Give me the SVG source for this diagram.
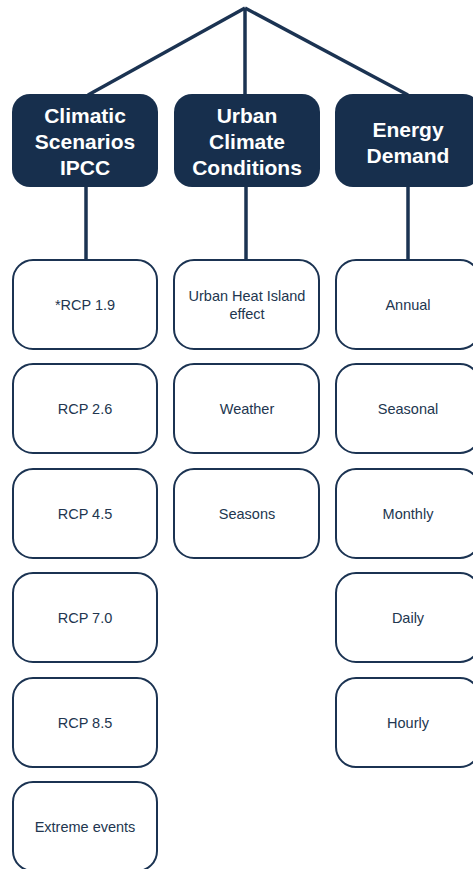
<svg xmlns="http://www.w3.org/2000/svg" width="473" height="869" viewBox="0 0 473 869">
<style>
.hdr{fill:#172f4d;}
.ht{fill:#fff;font-family:"Liberation Sans",Arial,sans-serif;font-weight:bold;font-size:21px;text-anchor:middle;}
.cb{fill:#fff;stroke:#1b3352;stroke-width:2;}
.ct{fill:#22364f;font-family:"Liberation Sans",Arial,sans-serif;font-size:14.5px;text-anchor:middle;}
.ln{stroke:#1b3352;stroke-width:3.5;fill:none;}
</style>
<rect width="473" height="869" fill="#fff"/>
<g id="connectors">
<line class="ln" x1="245" y1="8" x2="88" y2="95"/>
<line class="ln" x1="245" y1="8" x2="245" y2="95"/>
<line class="ln" x1="245" y1="8" x2="408" y2="95"/>
<line class="ln" x1="86" y1="187" x2="86" y2="260"/>
<line class="ln" x1="246" y1="187" x2="246" y2="260"/>
<line class="ln" x1="408" y1="187" x2="408" y2="260"/>
</g>
<g id="h1"><rect class="hdr" x="12" y="94" width="146" height="93" rx="18"/>
<text class="ht" x="85" y="123">Climatic</text><text class="ht" x="85" y="149">Scenarios</text><text class="ht" x="85" y="175">IPCC</text></g>
<g id="h2"><rect class="hdr" x="174" y="94" width="146" height="93" rx="18"/>
<text class="ht" x="247" y="123">Urban</text><text class="ht" x="247" y="149">Climate</text><text class="ht" x="247" y="175">Conditions</text></g>
<g id="h3"><rect class="hdr" x="335" y="94" width="146" height="93" rx="18"/>
<text class="ht" x="408" y="137">Energy</text><text class="ht" x="408" y="163">Demand</text></g>
<g id="c1"><rect class="cb" x="13" y="260" width="144" height="89" rx="20"/><text class="ct" x="85" y="310">*RCP 1.9</text></g>
<g id="c2"><rect class="cb" x="13" y="364" width="144" height="89" rx="20"/><text class="ct" x="85" y="414">RCP 2.6</text></g>
<g id="c3"><rect class="cb" x="13" y="469" width="144" height="89" rx="20"/><text class="ct" x="85" y="519">RCP 4.5</text></g>
<g id="c4"><rect class="cb" x="13" y="573" width="144" height="89" rx="20"/><text class="ct" x="85" y="623">RCP 7.0</text></g>
<g id="c5"><rect class="cb" x="13" y="678" width="144" height="89" rx="20"/><text class="ct" x="85" y="728">RCP 8.5</text></g>
<g id="c6"><rect class="cb" x="13" y="782" width="144" height="89" rx="20"/><text class="ct" x="85" y="832">Extreme events</text></g>
<g id="m1"><rect class="cb" x="174" y="260" width="145" height="89" rx="20"/><text class="ct" x="247" y="301">Urban Heat Island</text><text class="ct" x="247" y="319">effect</text></g>
<g id="m2"><rect class="cb" x="174" y="364" width="145" height="89" rx="20"/><text class="ct" x="247" y="414">Weather</text></g>
<g id="m3"><rect class="cb" x="174" y="469" width="145" height="89" rx="20"/><text class="ct" x="247" y="519">Seasons</text></g>
<g id="r1"><rect class="cb" x="336" y="260" width="144" height="89" rx="20"/><text class="ct" x="408" y="310">Annual</text></g>
<g id="r2"><rect class="cb" x="336" y="364" width="144" height="89" rx="20"/><text class="ct" x="408" y="414">Seasonal</text></g>
<g id="r3"><rect class="cb" x="336" y="469" width="144" height="89" rx="20"/><text class="ct" x="408" y="519">Monthly</text></g>
<g id="r4"><rect class="cb" x="336" y="573" width="144" height="89" rx="20"/><text class="ct" x="408" y="623">Daily</text></g>
<g id="r5"><rect class="cb" x="336" y="678" width="144" height="89" rx="20"/><text class="ct" x="408" y="728">Hourly</text></g>
</svg>
